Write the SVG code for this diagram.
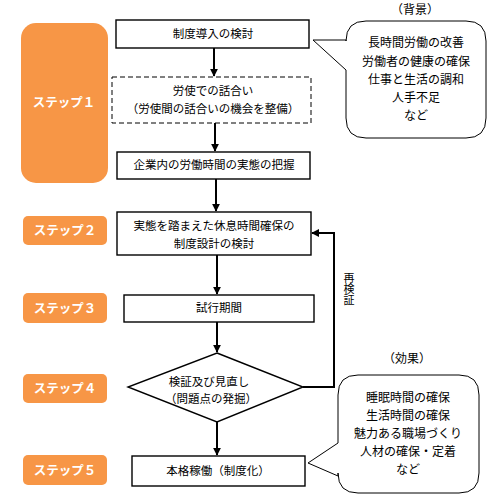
<svg xmlns="http://www.w3.org/2000/svg" width="499" height="498" viewBox="0 0 499 498">
<defs>
<style>
.step{fill:#F79646}
.steptxt{fill:#fff;font-family:"Noto Sans CJK JP",sans-serif;font-weight:bold;font-size:12.5px;text-anchor:middle}
.box{fill:#fff;stroke:#000;stroke-width:1.4}
.dash{fill:#fff;stroke:#000;stroke-width:1;stroke-dasharray:5,3}
.t{font-family:"Noto Sans CJK JP",sans-serif;font-size:11.5px;fill:#000;text-anchor:middle}
.v{font-family:"Noto Sans CJK JP",sans-serif;font-size:11px;fill:#000;text-anchor:middle;writing-mode:vertical-rl}
.c{font-family:"Noto Sans CJK JP",sans-serif;font-size:12px;fill:#000;text-anchor:middle}
.bub{fill:#fff;stroke:#000;stroke-width:1}
.ln{fill:none;stroke:#000;stroke-width:2}
</style>
<marker id="ah" viewBox="0 0 10 10" refX="9" refY="5" markerWidth="4" markerHeight="4" orient="auto"><path d="M0,0L10,5L0,10z" fill="#000"/></marker>
</defs>
<rect width="499" height="498" fill="#fff"/>

<g id="steps">
<g id="step1"><rect class="step" x="21" y="23" width="87" height="160" rx="15"/><text class="steptxt" x="64" y="107">ステップ１</text></g>
<g id="step2"><rect class="step" x="23" y="216" width="84" height="29" rx="5"/><text class="steptxt" x="65" y="235">ステップ２</text></g>
<g id="step3"><rect class="step" x="23" y="293" width="84" height="30" rx="5"/><text class="steptxt" x="65" y="313">ステップ３</text></g>
<g id="step4"><rect class="step" x="23" y="374" width="84" height="29" rx="5"/><text class="steptxt" x="65" y="393">ステップ４</text></g>
<g id="step5"><rect class="step" x="23" y="455" width="84" height="30" rx="5"/><text class="steptxt" x="65" y="475">ステップ５</text></g>
</g>

<g id="connectors">
<line class="ln" x1="214" y1="48" x2="214" y2="76" marker-end="url(#ah)"/>
<line class="ln" x1="215" y1="123" x2="215" y2="151" marker-end="url(#ah)"/>
<line class="ln" x1="216" y1="179" x2="216" y2="211" marker-end="url(#ah)"/>
<line class="ln" x1="217" y1="255" x2="217" y2="294" marker-end="url(#ah)"/>
<line class="ln" x1="217" y1="322" x2="217" y2="352" marker-end="url(#ah)"/>
<line class="ln" x1="217" y1="422" x2="217" y2="455" marker-end="url(#ah)"/>
<polyline class="ln" points="303,387 334,387 334,233 312,233" marker-end="url(#ah)"/>
<text class="v" x="349" y="289">再検証</text>
</g>

<g id="n1"><rect class="box" x="116" y="20" width="193" height="28"/><text class="t" x="213" y="38">制度導入の検討</text></g>
<g id="n2"><rect class="dash" x="112" y="77" width="199" height="46"/><text class="t" x="213" y="95">労使での話合い</text><text class="t" x="213" y="113">（労使間の話合いの機会を整備）</text></g>
<g id="n3"><rect class="box" x="117" y="152" width="193" height="27"/><text class="t" x="214" y="169">企業内の労働時間の実態の把握</text></g>
<g id="n4"><rect class="box" x="117" y="212" width="194" height="43"/><text class="t" x="214" y="230">実態を踏まえた休息時間確保の</text><text class="t" x="214" y="248">制度設計の検討</text></g>
<g id="n5"><rect class="box" x="124" y="295" width="190" height="27"/><text class="t" x="219" y="312">試行期間</text></g>
<g id="n6"><polygon class="box" points="217,353 303,387 217,422 128,387"/><text class="t" x="209" y="386">検証及び見直し</text><text class="t" x="211" y="403">（問題点の発掘）</text></g>
<g id="n7"><rect class="box" x="132" y="456" width="173" height="30"/><text class="t" x="218" y="475">本格稼働（制度化）</text></g>

<g id="bg">
<text class="c" x="415" y="14">（背景）</text>
<path class="bub" d="M366,21 H466 Q486,21 486,41 V118 Q486,138 466,138 H366 Q346,138 346,118 V70 L313,40 L346,40 V41 Q346,21 366,21 Z"/>
<text class="c" x="416" y="47">長時間労働の改善</text>
<text class="c" x="416" y="66">労働者の健康の確保</text>
<text class="c" x="416" y="84">仕事と生活の調和</text>
<text class="c" x="416" y="102">人手不足</text>
<text class="c" x="416" y="120">など</text>
</g>

<g id="eff">
<text class="c" x="407" y="363">（効果）</text>
<path class="bub" d="M358,375 H459 Q479,375 479,395 V473 Q479,493 459,493 H358 Q338,493 338,473 V476 L308,463 L338,443 V395 Q338,375 358,375 Z"/>
<text class="c" x="408" y="402">睡眠時間の確保</text>
<text class="c" x="408" y="420">生活時間の確保</text>
<text class="c" x="408" y="438">魅力ある職場づくり</text>
<text class="c" x="408" y="456">人材の確保・定着</text>
<text class="c" x="408" y="474">など</text>
</g>
</svg>
